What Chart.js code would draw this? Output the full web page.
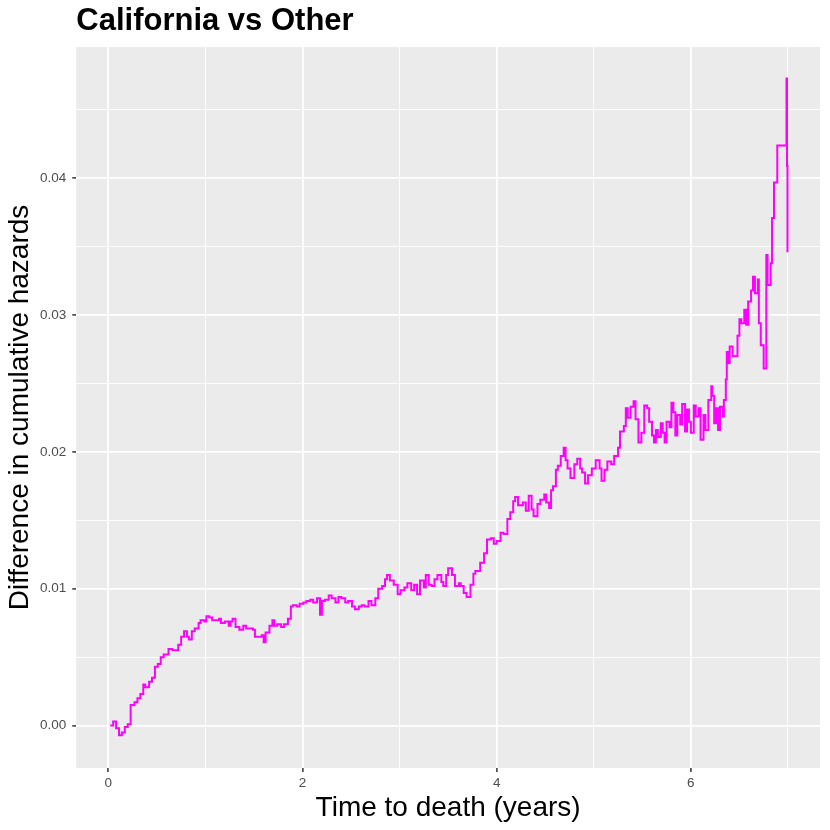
<!DOCTYPE html>
<html>
<head>
<meta charset="utf-8">
<script src="https://cdn.jsdelivr.net/npm/chart.js@4.4.1/dist/chart.umd.min.js"></script>
<style>
  html, body { margin: 0; padding: 0; background: #fff; }
  canvas { display: block; }
</style>
</head>
<body>
<canvas id="hazards" width="830" height="830"></canvas>
<script>
// step curve: time (years) and difference in cumulative hazards
const times = [
  0.02, 0.05, 0.08, 0.11, 0.14, 0.17, 0.20, 0.23, 0.27, 0.30,
  0.33, 0.36, 0.38, 0.42, 0.45, 0.48, 0.51, 0.54, 0.57, 0.62,
  0.66, 0.69, 0.72, 0.75, 0.78, 0.81, 0.83, 0.86, 0.89, 0.93,
  0.95, 0.99, 1.01, 1.04, 1.07, 1.11, 1.14, 1.16, 1.20, 1.24,
  1.26, 1.28, 1.31, 1.35, 1.39, 1.42, 1.45, 1.49, 1.51, 1.55,
  1.58, 1.60, 1.62, 1.66, 1.69, 1.71, 1.74, 1.78, 1.81, 1.85,
  1.88, 1.90, 1.94, 1.97, 2.01, 2.04, 2.08, 2.11, 2.15, 2.18,
  2.20, 2.23, 2.27, 2.30, 2.34, 2.37, 2.40, 2.44, 2.47, 2.51,
  2.54, 2.58, 2.61, 2.64, 2.68, 2.71, 2.75, 2.78, 2.82, 2.85,
  2.87, 2.90, 2.94, 2.98, 3.01, 3.05, 3.08, 3.12, 3.15, 3.18,
  3.21, 3.25, 3.27, 3.30, 3.33, 3.36, 3.39, 3.43, 3.45, 3.48,
  3.50, 3.54, 3.57, 3.61, 3.63, 3.66, 3.69, 3.73, 3.76, 3.78,
  3.83, 3.87, 3.90, 3.94, 3.97, 4.00, 4.04, 4.07, 4.11, 4.14,
  4.17, 4.19, 4.22, 4.25, 4.27, 4.30, 4.33, 4.36, 4.38, 4.42,
  4.45, 4.49, 4.51, 4.54, 4.56, 4.58, 4.61, 4.63, 4.66, 4.69,
  4.71, 4.73, 4.76, 4.80, 4.83, 4.86, 4.88, 4.91, 4.94, 4.98,
  5.02, 5.06, 5.08, 5.11, 5.14, 5.18, 5.21, 5.25, 5.27, 5.31,
  5.33, 5.35, 5.38, 5.41, 5.43, 5.46, 5.49, 5.52, 5.55, 5.57,
  5.60, 5.62, 5.64, 5.66, 5.69, 5.71, 5.73, 5.75, 5.78, 5.80,
  5.82, 5.84, 5.86, 5.89, 5.91, 5.94, 5.96, 5.98, 6.00, 6.03,
  6.05, 6.08, 6.10, 6.13, 6.15, 6.18, 6.21, 6.22, 6.24, 6.26,
  6.28, 6.30, 6.33, 6.34, 6.36, 6.37, 6.38, 6.40, 6.43, 6.47,
  6.48, 6.50, 6.52, 6.55, 6.57, 6.59, 6.62, 6.64, 6.66, 6.68,
  6.69, 6.70, 6.72, 6.74, 6.75, 6.777, 6.79, 6.822, 6.836, 6.856,
  6.89, 6.985, 6.99, 6.995
];
const hazardDiff = [
  0.0000, 0.0003, -0.0002, -0.0007, -0.0005, -0.0001, 0.0001, 0.0015, 0.0017, 0.0020,
  0.0023, 0.0030, 0.0028, 0.0032, 0.0035, 0.0043, 0.0045, 0.0050, 0.0052, 0.0056,
  0.0055, 0.0055, 0.0059, 0.0065, 0.0069, 0.0065, 0.0063, 0.0069, 0.0071, 0.0075,
  0.0077, 0.0076, 0.0080, 0.0079, 0.0077, 0.0077, 0.0078, 0.0075, 0.0076, 0.0073,
  0.0076, 0.0078, 0.0072, 0.0070, 0.0073, 0.0071, 0.0071, 0.0070, 0.0065, 0.0065,
  0.0066, 0.0061, 0.0068, 0.0073, 0.0077, 0.0073, 0.0074, 0.0072, 0.0074, 0.0078,
  0.0087, 0.0088, 0.0087, 0.0089, 0.0090, 0.0091, 0.0092, 0.0090, 0.0093, 0.0081,
  0.0091, 0.0092, 0.0095, 0.0093, 0.0090, 0.0094, 0.0093, 0.0090, 0.0091, 0.0087,
  0.0085, 0.0087, 0.0088, 0.0087, 0.0091, 0.0088, 0.0093, 0.0100, 0.0102, 0.0107,
  0.0110, 0.0106, 0.0103, 0.0096, 0.0099, 0.0101, 0.0104, 0.0099, 0.0103, 0.0096,
  0.0106, 0.0101, 0.0110, 0.0103, 0.0102, 0.0107, 0.0110, 0.0105, 0.0102, 0.0110,
  0.0115, 0.0110, 0.0102, 0.0104, 0.0102, 0.0097, 0.0094, 0.0103, 0.0111, 0.0113,
  0.0119, 0.0126, 0.0136, 0.0137, 0.0133, 0.0135, 0.0141, 0.0140, 0.0151, 0.0156,
  0.0164, 0.0167, 0.0161, 0.0161, 0.0163, 0.0157, 0.0168, 0.0158, 0.0153, 0.0162,
  0.0165, 0.0169, 0.0163, 0.0159, 0.0172, 0.0175, 0.0187, 0.0190, 0.0197, 0.0203,
  0.0194, 0.0188, 0.0181, 0.0191, 0.0195, 0.0188, 0.0185, 0.0177, 0.0183, 0.0188,
  0.0194, 0.0188, 0.0179, 0.0187, 0.0193, 0.0191, 0.0197, 0.0203, 0.0215, 0.0219,
  0.0232, 0.0225, 0.0233, 0.0237, 0.0224, 0.0207, 0.0214, 0.0234, 0.0232, 0.0222,
  0.0212, 0.0207, 0.0216, 0.0211, 0.0221, 0.0214, 0.0207, 0.0222, 0.0218, 0.0236,
  0.0229, 0.0212, 0.0227, 0.0220, 0.0235, 0.0215, 0.0231, 0.0222, 0.0214, 0.0234,
  0.0226, 0.0232, 0.0209, 0.0227, 0.0216, 0.0238, 0.0248, 0.0241, 0.0221, 0.0232,
  0.0216, 0.0233, 0.0226, 0.0238, 0.0253, 0.0273, 0.0265, 0.0277, 0.0270, 0.0270,
  0.0285, 0.0297, 0.0294, 0.0304, 0.0293, 0.0310, 0.0318, 0.0328, 0.0316, 0.0316,
  0.0326, 0.0294, 0.0278, 0.0278, 0.0261, 0.0344, 0.0322, 0.0338, 0.0371, 0.0397,
  0.0424, 0.0473, 0.0409, 0.0346
];

const xTicks = [0, 1, 2, 3, 4, 5, 6, 7];
const xLabels = ["0", "", "2", "", "4", "", "6", ""];
const yTicks = [0, 0.005, 0.01, 0.015, 0.02, 0.025, 0.03, 0.035, 0.04, 0.045];
const yLabels = ["0.00", "", "0.01", "", "0.02", "", "0.03", "", "0.04", ""];

const FONT = "'Liberation Sans', Arial, Helvetica, sans-serif";

// grey panel behind the grid, like ggplot
const panelBg = {
  id: "panelBg",
  beforeDraw(chart) {
    const { ctx, chartArea: a } = chart;
    ctx.save();
    ctx.fillStyle = "#EBEBEB";
    ctx.fillRect(a.left, a.top, a.right - a.left, a.bottom - a.top);
    ctx.restore();
  },
};

function axisFor(ticks, labels, min, max, title, titlePad, tickPad) {
  return {
    type: "linear",
    min: min,
    max: max,
    afterBuildTicks: (axis) => {
      axis.ticks = ticks.map((v) => ({ value: v }));
    },
    border: { display: false },
    grid: {
      color: "#FFFFFF",
      lineWidth: (c) => (labels[c.index] ? 1.8 : 0.9),
      tickColor: (c) => (labels[c.index] ? "#333333" : "rgba(0,0,0,0)"),
      tickLength: 4,
      tickWidth: 1.5,
    },
    ticks: {
      autoSkip: false,
      maxRotation: 0,
      padding: tickPad,
      color: "#4D4D4D",
      font: { family: FONT, size: 13.5, lineHeight: 1.2 },
      callback: (value, index) => labels[index],
    },
    title: {
      display: true,
      text: title,
      color: "#000000",
      padding: titlePad,
      font: { family: FONT, size: 28, lineHeight: 1 },
    },
  };
}

const points = times.map((t, i) => ({ x: t, y: hazardDiff[i] }));

new Chart(document.getElementById("hazards"), {
  type: "line",
  data: {
    datasets: [
      {
        data: points,
        borderColor: "#FF00FF",
        borderWidth: 2,
        pointRadius: 0,
        stepped: true,
        fill: false,
      },
    ],
  },
  options: {
    responsive: false,
    animation: false,
    devicePixelRatio: 1,
    layout: { padding: { right: 10, top: 0, bottom: 0, left: 0 } },
    plugins: {
      legend: { display: false },
      tooltip: { enabled: false },
      title: {
        display: true,
        text: "California vs Other",
        align: "start",
        fullSize: false,
        color: "#000000",
        padding: { top: 5.5, bottom: 10.5 },
        font: { family: FONT, size: 31, weight: "bold", lineHeight: 1 },
      },
    },
    scales: {
      x: axisFor(xTicks, xLabels, -0.33, 7.33, "Time to death (years)", { top: 0, bottom: 7.8 }, 3),
      y: axisFor(yTicks, yLabels, -0.0031, 0.0496, "Difference in cumulative hazards", { top: 6, bottom: 0 }, 6),
    },
  },
  plugins: [panelBg],
});
</script>
</body>
</html>
